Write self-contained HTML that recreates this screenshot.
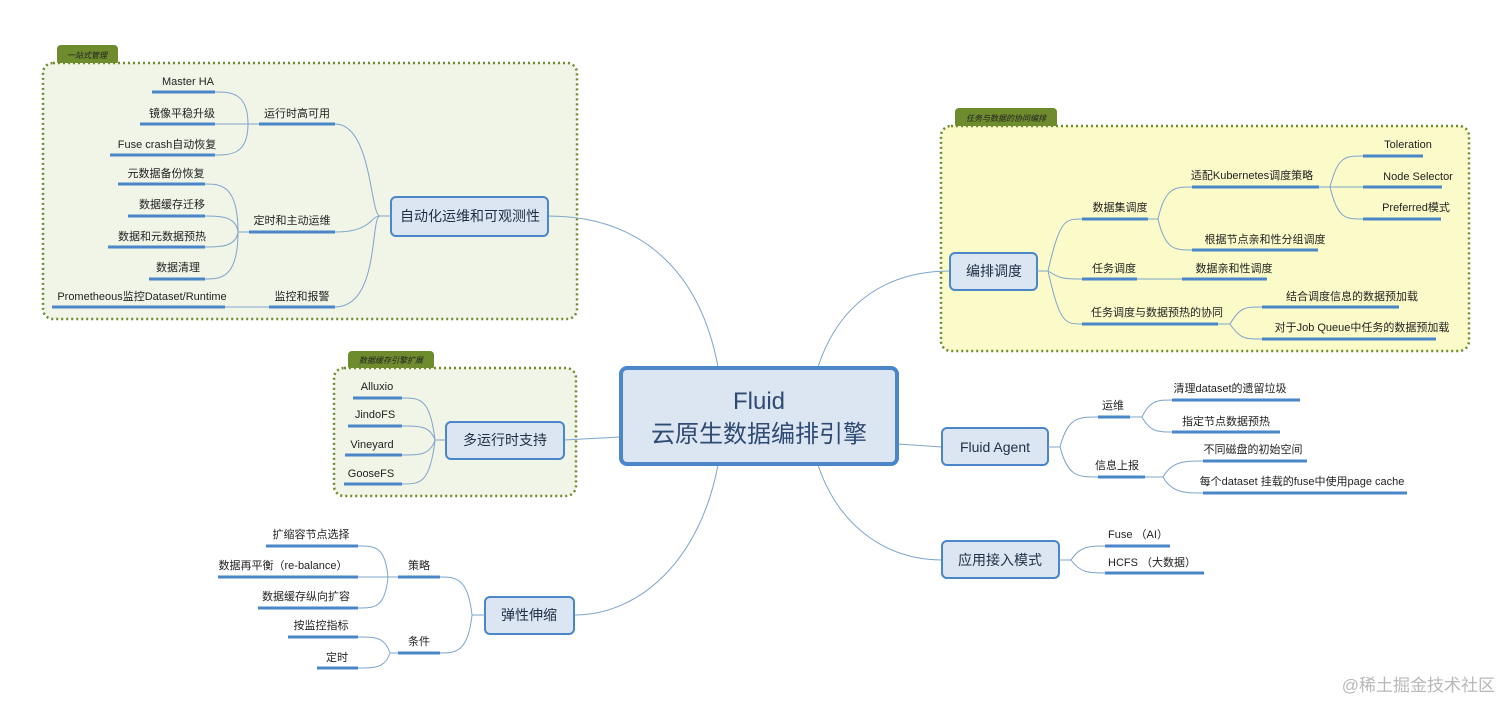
<!DOCTYPE html>
<html><head><meta charset="utf-8"><style>
html,body{margin:0;padding:0;background:#fff;}
svg{display:block;font-family:"Liberation Sans","Noto Sans CJK SC",sans-serif;}
.l{font-size:11px;fill:#222;text-anchor:middle;}
.u{stroke:#4a86c8;stroke-width:3;}
.c{stroke:#7ea4cc;stroke-width:1;fill:none;}
.b{fill:#dce6f2;stroke:#4a86c8;stroke-width:2;}
.bt{font-size:14px;fill:#1f2f45;text-anchor:middle;}
.tab{font-size:8px;fill:#222;font-style:italic;text-anchor:middle;}
</style></head><body>
<svg width="1512" height="714" viewBox="0 0 1512 714" xmlns="http://www.w3.org/2000/svg">
<!-- groups -->
<rect x="57" y="45" width="61" height="20" rx="4" fill="#6e8b2e"/>
<text class="tab" x="87" y="58">一站式管理</text>
<rect x="43" y="63" width="534" height="256" rx="10" fill="#f1f5e7" stroke="#6e8b2e" stroke-width="2.5" stroke-dasharray="2 3"/>
<rect x="955" y="108" width="102" height="20" rx="4" fill="#6e8b2e"/>
<text class="tab" x="1006" y="121">任务与数据的协同编排</text>
<rect x="941" y="126" width="528" height="225" rx="10" fill="#fbfbc9" stroke="#6e8b2e" stroke-width="2.5" stroke-dasharray="2 3"/>
<rect x="348" y="351" width="86" height="19" rx="4" fill="#6e8b2e"/>
<text class="tab" x="391" y="363">数据缓存引擎扩展</text>
<rect x="334" y="368" width="242" height="128" rx="10" fill="#f1f5e7" stroke="#6e8b2e" stroke-width="2.5" stroke-dasharray="2 3"/>

<!-- main connectors -->
<path class="c" d="M718,367 C700,270 640,216 548,216"/>
<path class="c" d="M818,367 C840,300 890,271 950,271"/>
<path class="c" d="M620,437 L564,440"/>
<path class="c" d="M898,444 L942,447"/>
<path class="c" d="M818,465 C840,530 890,560 942,560"/>
<path class="c" d="M718,465 C700,560 640,615 574,615"/>

<!-- center -->
<rect x="621" y="368" width="276" height="96" rx="6" fill="#dce6f2" stroke="#4a86c8" stroke-width="4"/>
<text x="759" y="409" font-size="24" fill="#2f4a73" text-anchor="middle">Fluid</text>
<text x="759" y="442" font-size="24" fill="#2f4a73" text-anchor="middle">云原生数据编排引擎</text>

<!-- 自动化运维 -->
<rect class="b" x="391" y="197" width="157" height="39" rx="5"/>
<text class="bt" x="470" y="221">自动化运维和可观测性</text>
<path class="c" d="M391,216 L380,216 C370,216 372,124 335,124"/>
<path class="c" d="M380,216 C370,216 372,232 335,232"/>
<path class="c" d="M380,216 C370,216 380,307 335,307"/>
<line class="u" x1="259" y1="124" x2="335" y2="124"/><text class="l" x="297" y="117">运行时高可用</text>
<line class="u" x1="249" y1="232" x2="335" y2="232"/><text class="l" x="292" y="224">定时和主动运维</text>
<line class="u" x1="269" y1="307" x2="335" y2="307"/><text class="l" x="302" y="300">监控和报警</text>
<path class="c" d="M259,124 L248,124 C248,92 230,92 215,92 M248,124 L215,124 M248,124 C248,155 230,155 215,155"/>
<line class="u" x1="152" y1="92" x2="215" y2="92"/><text class="l" x="188" y="85">Master HA</text>
<line class="u" x1="140" y1="124" x2="215" y2="124"/><text class="l" x="182" y="117">镜像平稳升级</text>
<line class="u" x1="110" y1="155" x2="215" y2="155"/><text class="l" x="167" y="148">Fuse crash自动恢复</text>
<path class="c" d="M249,232 L238,232 C238,184 220,184 205,184 M238,232 C236,216 220,216 205,216 M238,232 C236,247 220,247 205,247 M238,232 C238,279 220,279 205,279"/>
<line class="u" x1="118" y1="184" x2="205" y2="184"/><text class="l" x="166" y="177">元数据备份恢复</text>
<line class="u" x1="128" y1="216" x2="205" y2="216"/><text class="l" x="172" y="208">数据缓存迁移</text>
<line class="u" x1="108" y1="247" x2="205" y2="247"/><text class="l" x="162" y="240">数据和元数据预热</text>
<line class="u" x1="149" y1="279" x2="205" y2="279"/><text class="l" x="178" y="271">数据清理</text>
<path class="c" d="M269,307 L225,307"/>
<line class="u" x1="52" y1="307" x2="225" y2="307"/><text class="l" x="142" y="300">Prometheous监控Dataset/Runtime</text>

<!-- 编排调度 -->
<rect class="b" x="950" y="253" width="87" height="37" rx="5"/>
<text class="bt" x="994" y="276">编排调度</text>
<path class="c" d="M1037,271 L1048,271 C1060,219 1065,219 1082,219 M1048,271 C1060,279 1065,279 1082,279 M1048,271 C1060,324 1065,324 1082,324"/>
<line class="u" x1="1082" y1="219" x2="1148" y2="219"/><text class="l" x="1120" y="211">数据集调度</text>
<line class="u" x1="1082" y1="279" x2="1137" y2="279"/><text class="l" x="1114" y="272">任务调度</text>
<line class="u" x1="1082" y1="324" x2="1218" y2="324"/><text class="l" x="1157" y="316">任务调度与数据预热的协同</text>
<path class="c" d="M1148,219 L1158,219 C1165,187 1175,187 1192,187 M1158,219 C1165,250 1175,250 1192,250"/>
<line class="u" x1="1192" y1="187" x2="1319" y2="187"/><text class="l" x="1252" y="179">适配Kubernetes调度策略</text>
<line class="u" x1="1192" y1="250" x2="1318" y2="250"/><text class="l" x="1265" y="243">根据节点亲和性分组调度</text>
<path class="c" d="M1319,187 L1330,187 C1338,156 1345,156 1363,156 M1330,187 L1363,187 M1330,187 C1338,219 1345,219 1363,219"/>
<line class="u" x1="1363" y1="156" x2="1423" y2="156"/><text class="l" x="1408" y="148">Toleration</text>
<line class="u" x1="1363" y1="187" x2="1442" y2="187"/><text class="l" x="1418" y="180">Node Selector</text>
<line class="u" x1="1363" y1="219" x2="1441" y2="219"/><text class="l" x="1416" y="211">Preferred模式</text>
<path class="c" d="M1137,279 L1182,279"/>
<line class="u" x1="1182" y1="279" x2="1267" y2="279"/><text class="l" x="1234" y="272">数据亲和性调度</text>
<path class="c" d="M1218,324 L1230,324 C1240,307 1245,307 1262,307 M1230,324 C1240,339 1245,339 1262,339"/>
<line class="u" x1="1262" y1="307" x2="1399" y2="307"/><text class="l" x="1352" y="300">结合调度信息的数据预加载</text>
<line class="u" x1="1262" y1="339" x2="1436" y2="339"/><text class="l" x="1362" y="331">对于Job Queue中任务的数据预加载</text>

<!-- 多运行时支持 -->
<rect class="b" x="446" y="422" width="118" height="37" rx="5"/>
<text class="bt" x="505" y="445">多运行时支持</text>
<path class="c" d="M446,440 L435,440 C430,398 420,398 402,398 M435,440 C430,426 420,426 402,426 M435,440 C430,455 420,455 402,455 M435,440 C430,484 420,484 402,484"/>
<line class="u" x1="353" y1="398" x2="402" y2="398"/><text class="l" x="377" y="390">Alluxio</text>
<line class="u" x1="348" y1="426" x2="402" y2="426"/><text class="l" x="375" y="418">JindoFS</text>
<line class="u" x1="345" y1="455" x2="402" y2="455"/><text class="l" x="372" y="448">Vineyard</text>
<line class="u" x1="344" y1="484" x2="402" y2="484"/><text class="l" x="371" y="477">GooseFS</text>

<!-- Fluid Agent -->
<rect class="b" x="942" y="428" width="106" height="37" rx="5"/>
<text class="bt" x="995" y="452">Fluid Agent</text>
<path class="c" d="M1048,447 L1060,447 C1068,417 1078,417 1098,417 M1060,447 C1068,477 1078,477 1098,477"/>
<line class="u" x1="1098" y1="417" x2="1130" y2="417"/><text class="l" x="1113" y="409">运维</text>
<line class="u" x1="1098" y1="477" x2="1145" y2="477"/><text class="l" x="1117" y="469">信息上报</text>
<path class="c" d="M1130,417 L1142,417 C1150,400 1158,400 1172,400 M1142,417 C1150,432 1158,432 1172,432"/>
<line class="u" x1="1172" y1="400" x2="1300" y2="400"/><text class="l" x="1230" y="392">清理dataset的遗留垃圾</text>
<line class="u" x1="1172" y1="432" x2="1280" y2="432"/><text class="l" x="1226" y="425">指定节点数据预热</text>
<path class="c" d="M1145,477 L1163,477 C1172,461 1185,461 1203,461 M1163,477 C1172,493 1185,493 1203,493"/>
<line class="u" x1="1203" y1="461" x2="1307" y2="461"/><text class="l" x="1253" y="453">不同磁盘的初始空间</text>
<line class="u" x1="1203" y1="493" x2="1407" y2="493"/><text class="l" x="1302" y="485">每个dataset 挂载的fuse中使用page cache</text>

<!-- 应用接入模式 -->
<rect class="b" x="942" y="541" width="117" height="37" rx="5"/>
<text class="bt" x="1000" y="565">应用接入模式</text>
<path class="c" d="M1059,560 L1071,560 C1080,546 1090,546 1105,546 M1071,560 C1080,573 1090,573 1105,573"/>
<line class="u" x1="1105" y1="546" x2="1170" y2="546"/><text class="l" x="1138" y="538">Fuse （AI）</text>
<line class="u" x1="1105" y1="573" x2="1204" y2="573"/><text class="l" x="1152" y="566">HCFS （大数据）</text>

<!-- 弹性伸缩 -->
<rect class="b" x="485" y="597" width="89" height="37" rx="5"/>
<text class="bt" x="529" y="620">弹性伸缩</text>
<path class="c" d="M485,615 L472,615 C468,577 455,577 440,577 M472,615 C468,653 455,653 440,653"/>
<line class="u" x1="398" y1="577" x2="440" y2="577"/><text class="l" x="419" y="569">策略</text>
<line class="u" x1="398" y1="653" x2="440" y2="653"/><text class="l" x="419" y="645">条件</text>
<path class="c" d="M398,577 L388,577 C385,546 375,546 358,546 M388,577 L358,577 M388,577 C385,608 375,608 358,608"/>
<line class="u" x1="266" y1="546" x2="358" y2="546"/><text class="l" x="311" y="538">扩缩容节点选择</text>
<line class="u" x1="218" y1="577" x2="358" y2="577"/><text class="l" x="283" y="569">数据再平衡（re-balance）</text>
<line class="u" x1="258" y1="608" x2="358" y2="608"/><text class="l" x="306" y="600">数据缓存纵向扩容</text>
<path class="c" d="M398,653 L390,653 C385,637 375,637 358,637 M390,653 C385,668 375,668 358,668"/>
<line class="u" x1="288" y1="637" x2="358" y2="637"/><text class="l" x="321" y="629">按监控指标</text>
<line class="u" x1="317" y1="668" x2="358" y2="668"/><text class="l" x="337" y="661">定时</text>

<text x="1495" y="691" font-size="17" fill="#b8b8b8" text-anchor="end">@稀土掘金技术社区</text>
</svg>
</body></html>
